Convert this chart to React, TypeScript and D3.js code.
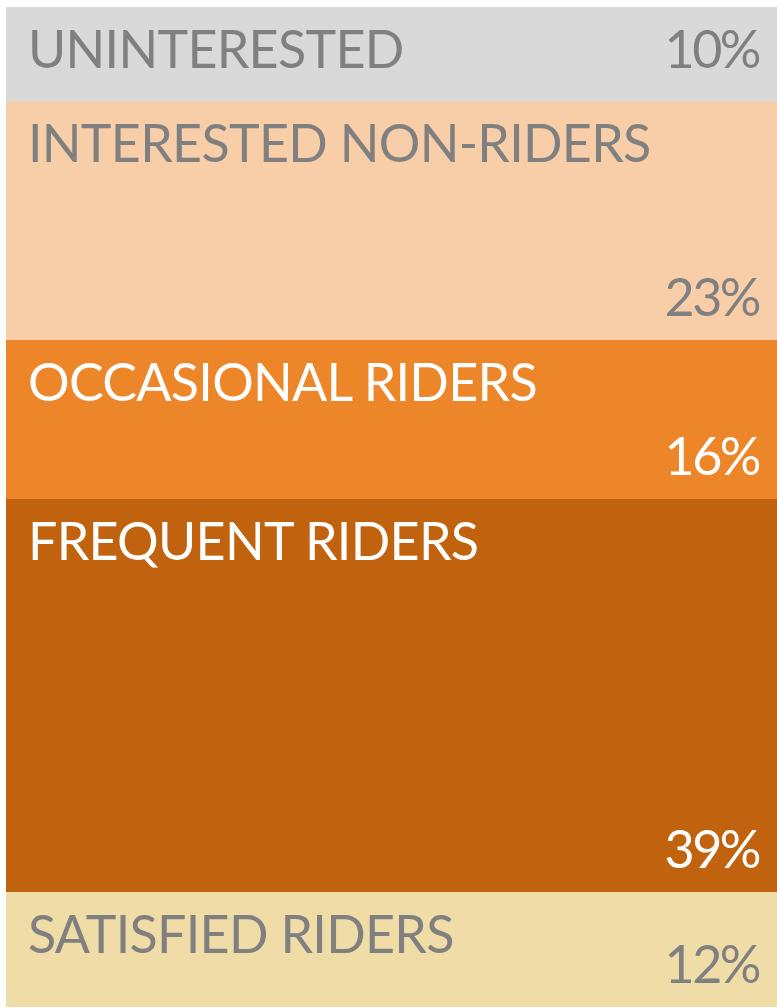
import React from "react";
import * as d3 from "d3";

const categories = [
  "UNINTERESTED",
  "INTERESTED NON-RIDERS",
  "OCCASIONAL RIDERS",
  "FREQUENT RIDERS",
  "SATISFIED RIDERS",
];
const shares = [9.4, 23.9, 15.9, 39.3, 11.5];
const shareLabels = ["10%", "23%", "16%", "39%", "12%"];
const fills = ["#d9d9d9", "#f8cea8", "#ed8529", "#c1620f", "#efdca6"];
const textColors = ["#808080", "#808080", "#ffffff", "#ffffff", "#808080"];

const W = 777;
const H = 1008;

export default function App() {
  const y = d3.scaleLinear().domain([0, d3.sum(shares)]).range([7, 1007]);
  const cum = d3.cumsum(shares);
  const bands = shares.map((s, i) => {
    const start = i === 0 ? 0 : cum[i - 1];
    return { y0: y(start), y1: y(start + s), i };
  });
  const font = "'Gill Sans', 'Lato', 'Open Sans', sans-serif";
  return (
    <svg
      width={W}
      height={H}
      style={{ position: "absolute", left: 0, top: 0, display: "block" }}
    >
      {bands.map(({ y0, y1, i }) => {
        const h = y1 - y0;
        const labelY = y0 + 61;
        const pctY = h < 100 ? labelY : y1 - 24;
        return (
          <g key={categories[i]}>
            <rect x={6} y={y0} width={W} height={h} fill={fills[i]} />
            <text
              x={28}
              y={labelY}
              fill={textColors[i]}
              fontFamily={font}
              fontSize={52}
              letterSpacing={-0.7}
            >
              {categories[i]}
            </text>
            <text
              x={759}
              y={pctY}
              fill={textColors[i]}
              fontFamily={font}
              fontSize={52}
              letterSpacing={-2.5}
              textAnchor="end"
            >
              {shareLabels[i]}
            </text>
          </g>
        );
      })}
    </svg>
  );
}
